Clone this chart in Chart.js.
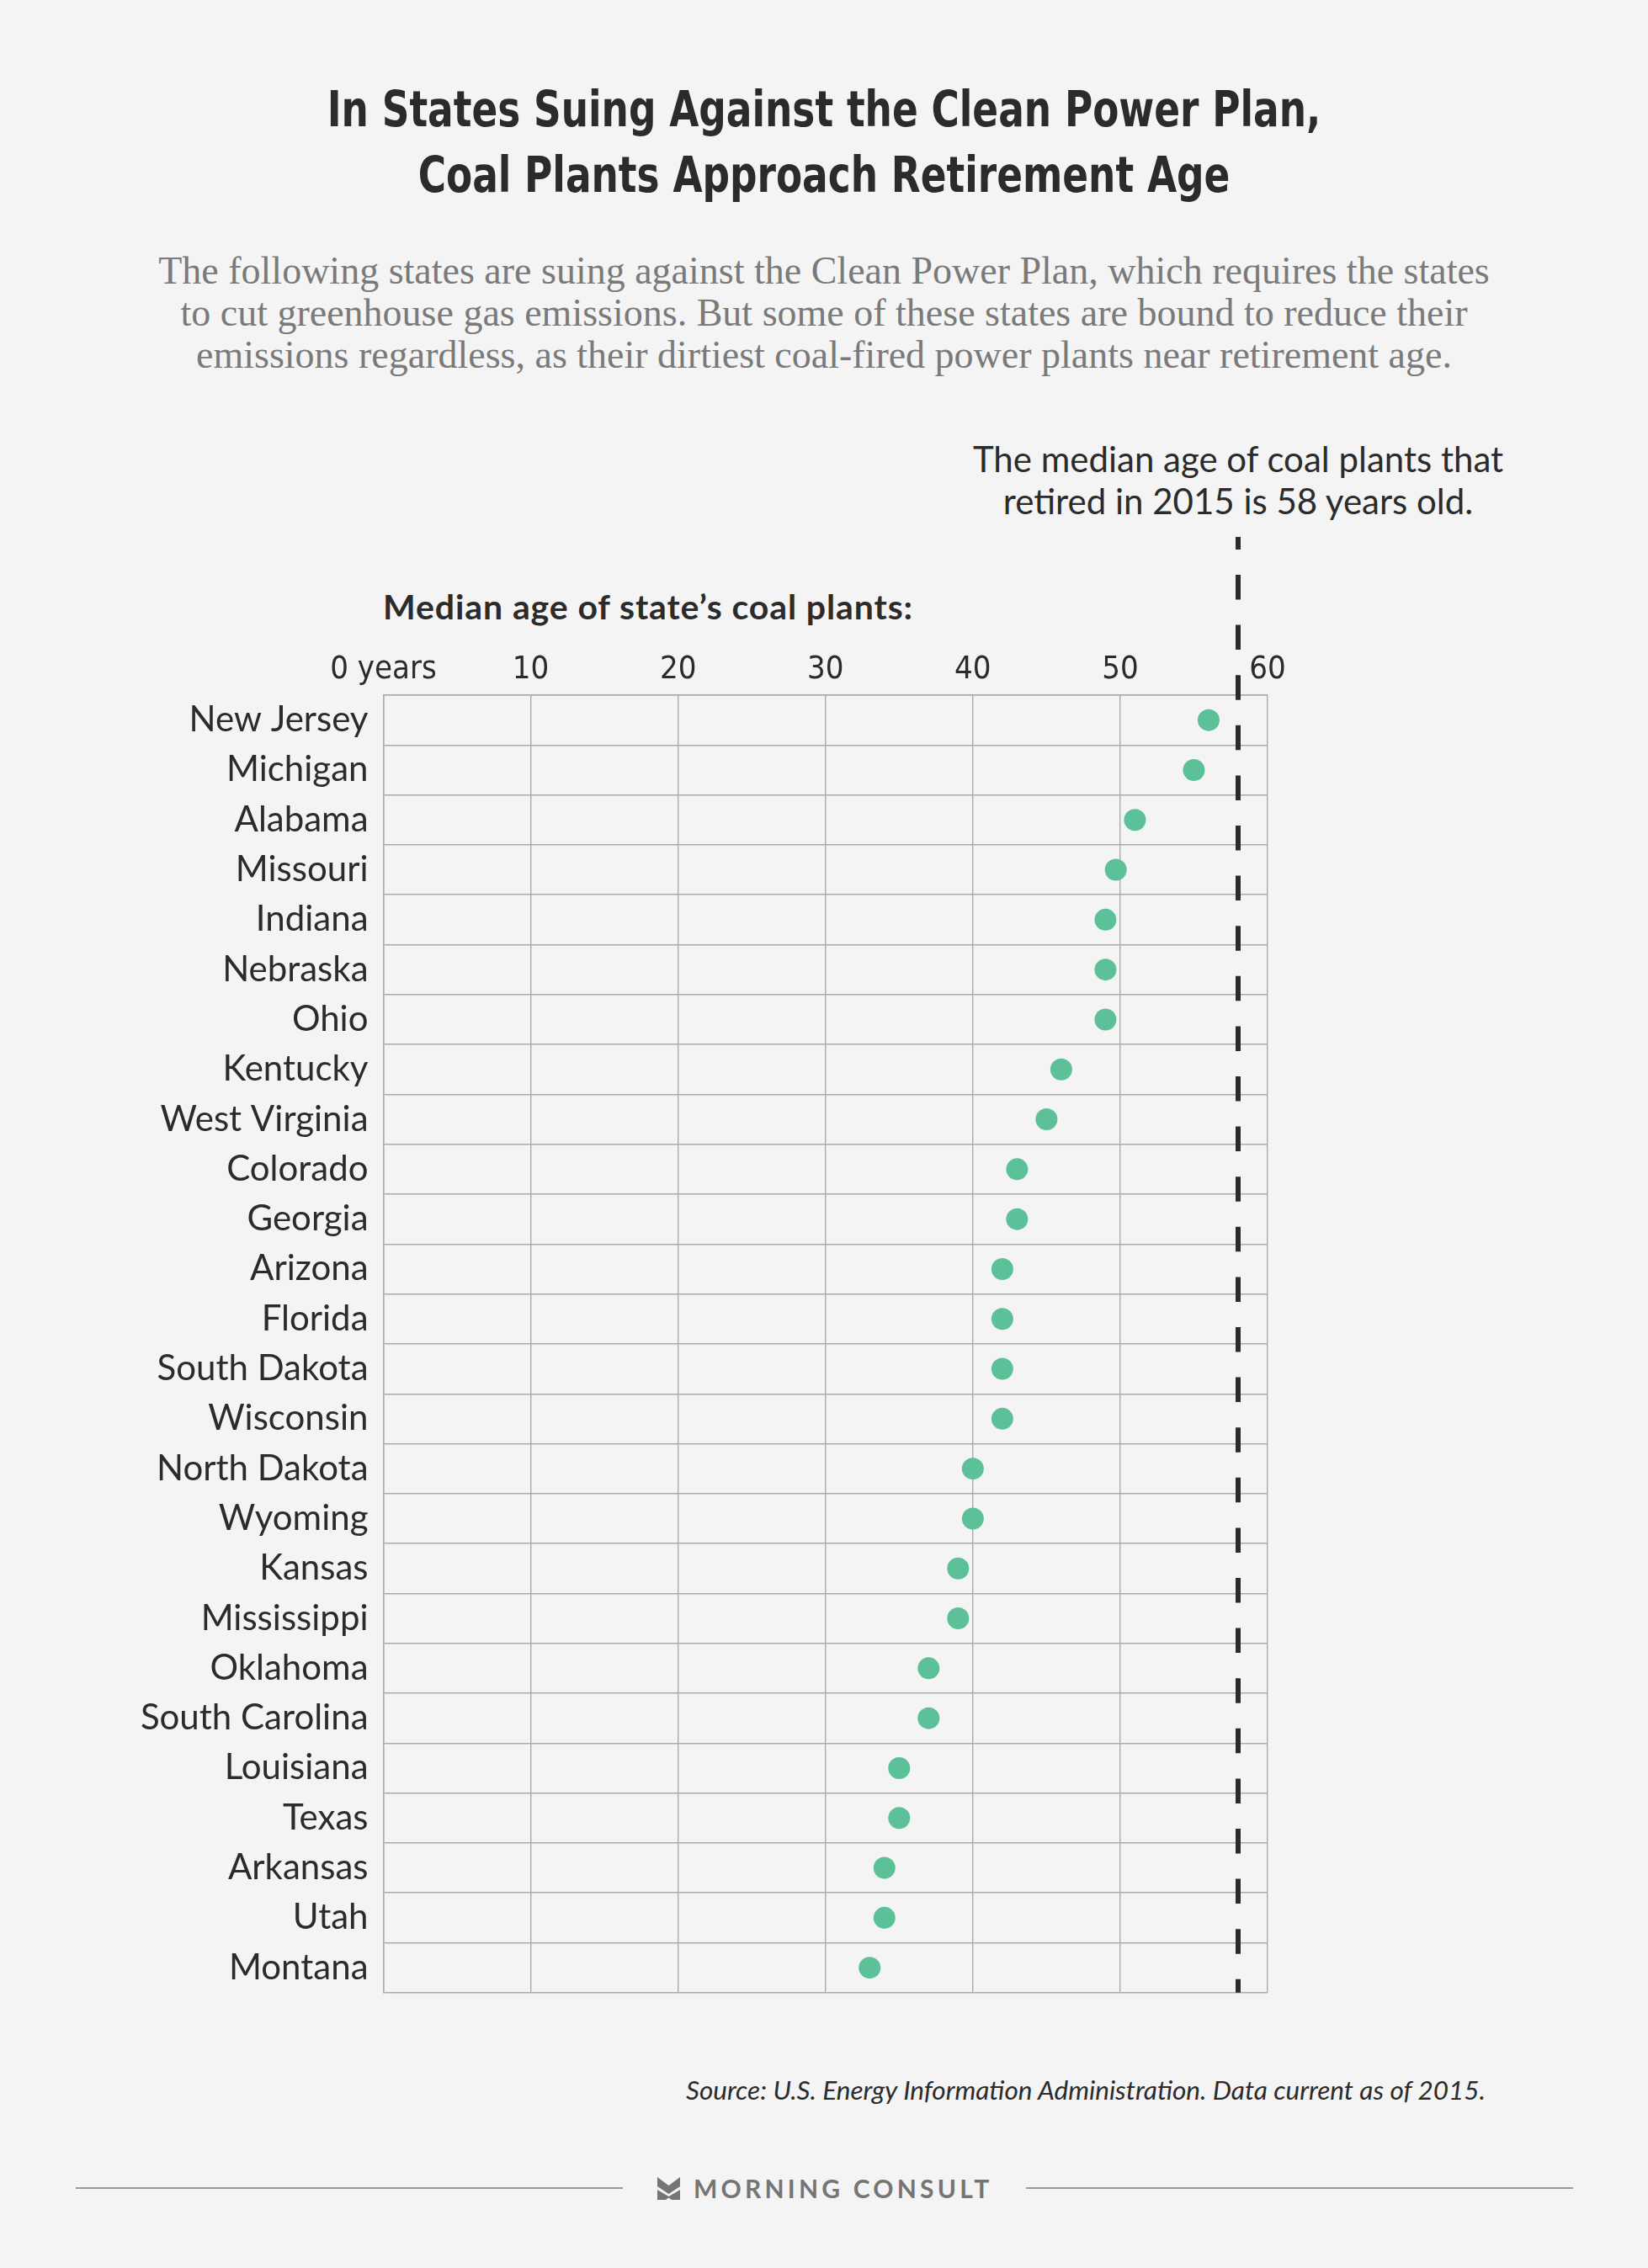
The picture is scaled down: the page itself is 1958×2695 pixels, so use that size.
<!DOCTYPE html>
<html>
<head>
<meta charset="utf-8">
<script src="https://cdn.jsdelivr.net/npm/chart.js@4.4.1/dist/chart.umd.min.js"></script>
<style>
  body { margin: 0; background: #f4f4f4; }
  #page { position: relative; width: 1958px; height: 2695px; overflow: hidden; background: #f4f4f4; color: #2b2b2b; }
  .abs { position: absolute; }
  #title { left: 0; width: 1958px; top: 91px; text-align: center; transform: scaleX(0.87); transform-origin: 979px 0; font-family: "Liberation Sans Narrow", "DejaVu Sans Condensed", Roboto, sans-serif; font-weight: bold; font-size: 58px; line-height: 78px; color: #2b2b2b; }
  #subtitle { left: 0; width: 1958px; top: 297px; text-align: center; font-family: "Liberation Serif", "DejaVu Serif", serif; font-size: 46px; line-height: 50px; color: #7a7a7a; }
  #note { top: 520px; transform: translateX(-50%); white-space: nowrap; text-align: center; font-family: Lato, "Open Sans", sans-serif; font-size: 42px; line-height: 50px; color: #2b2b2b; }
  #axisTitle { left: 455px; top: 698px; font-family: Lato, "Open Sans", sans-serif; font-weight: bold; font-size: 41px; letter-spacing: 0.9px; line-height: 46px; color: #2b2b2b; }
  #source { right: 193px; top: 2465px; font-family: Lato, "Open Sans", sans-serif; font-style: italic; font-size: 31.5px; line-height: 36px; color: #2b2b2b; }
  .rule { top: 2599px; height: 2px; background: #9a9a9a; }
  #logo { left: 781px; top: 2583px; height: 34px; display: flex; align-items: center; }
  #logo span { margin-left: 16px; font-family: Lato, "Open Sans", sans-serif; font-weight: bold; font-size: 30px; letter-spacing: 4.2px; color: #757575; }
  #chartBox { left: 0; top: 620px; width: 1958px; height: 1791px; }
</style>
</head>
<body>
<div id="page">
  <div id="title" class="abs">In States Suing Against the Clean Power Plan,<br>Coal Plants Approach Retirement Age</div>
  <div id="subtitle" class="abs">The following states are suing against the Clean Power Plan, which requires the states<br>to cut greenhouse gas emissions. But some of these states are bound to reduce their<br>emissions regardless, as their dirtiest coal-fired power plants near retirement age.</div>
  <div id="note" class="abs">The median age of coal plants that<br>retired in 2015 is 58 years old.</div>
  <div id="axisTitle" class="abs">Median age of state’s coal plants:</div>
  <div id="chartBox" class="abs"><canvas id="chart" width="1958" height="1791"></canvas></div>
  <div id="source" class="abs">Source: U.S. Energy Information Administration. Data current as of 2015.</div>
  <div class="abs rule" style="left:90px;width:650px"></div>
  <div class="abs rule" style="left:1219px;width:650px"></div>
  <div id="logo" class="abs">
    <svg width="27" height="27" viewBox="0 0 27 27">
      <polygon points="0,0 13.5,10 27,0 27,11 13.5,20 0,11" fill="#757575"/>
      <polygon points="0,15 13.5,23 27,15 27,27 17,27 13.5,24.5 10,27 0,27" fill="#757575"/>
    </svg>
    <span>MORNING CONSULT</span>
  </div>
</div>

<script>
const states = [
  "New Jersey", "Michigan", "Alabama", "Missouri", "Indiana", "Nebraska", "Ohio",
  "Kentucky", "West Virginia", "Colorado", "Georgia", "Arizona", "Florida",
  "South Dakota", "Wisconsin", "North Dakota", "Wyoming", "Kansas", "Mississippi",
  "Oklahoma", "South Carolina", "Louisiana", "Texas", "Arkansas", "Utah", "Montana"
];
const medianAge = [
  56, 55, 51, 49.7, 49, 49, 49,
  46, 45, 43, 43, 42, 42,
  42, 42, 40, 40, 39, 39,
  37, 37, 35, 35, 34, 34, 33
];
const xMin = 0;
const xMax = 60;
const xStep = 10;
const retiredMedian = 58;

const gridColor = "#ababab";
const textColor = "#2b2b2b";

// dashed line for the 2015 retirement median
const medianLine = {
  id: "medianLine",
  afterDatasetsDraw(chart) {
    const { ctx, chartArea, scales } = chart;
    const x = scales.x.getPixelForValue(retiredMedian);
    ctx.save();
    ctx.strokeStyle = "#2b2b2b";
    ctx.lineWidth = 6;
    ctx.setLineDash([29.5, 30.1]);
    ctx.lineDashOffset = 14.6;
    ctx.beginPath();
    ctx.moveTo(x, 18);
    ctx.lineTo(x, chartArea.bottom);
    ctx.stroke();
    ctx.restore();
  }
};

const chart = new Chart(document.getElementById("chart"), {
  type: "line",
  data: {
    labels: states,
    datasets: [{
      data: medianAge,
      showLine: false,
      pointRadius: 13,
      pointHoverRadius: 13,
      pointBackgroundColor: "#5cc198",
      pointBorderWidth: 0,
      borderColor: "#5cc198"
    }]
  },
  options: {
    indexAxis: "y",
    responsive: false,
    animation: false,
    layout: { padding: { left: 0, right: 452, top: 0, bottom: 25 } },
    plugins: {
      legend: { display: false },
      tooltip: { enabled: false }
    },
    scales: {
      x: {
        type: "linear",
        position: "top",
        min: xMin,
        max: xMax,
        afterFit: s => { s.height = 206; },
        ticks: {
          stepSize: xStep,
          autoSkip: false,
          maxRotation: 0,
          padding: 7,
          color: textColor,
          font: { family: "'Liberation Sans Narrow', 'DejaVu Sans Condensed', Roboto, sans-serif", size: 38 },
          callback: v => (v === 0 ? "0 years" : v)
        },
        grid: { color: gridColor, lineWidth: 1.4, drawTicks: false },
        border: { display: true, color: gridColor, width: 1.4 }
      },
      y: {
        type: "category",
        offset: true,
        afterFit: s => { s.width = 455.5; },
        ticks: {
          autoSkip: false,
          padding: 18,
          color: textColor,
          font: { family: "Lato, 'Open Sans', sans-serif", size: 42 }
        },
        grid: { offset: true, color: gridColor, lineWidth: 1.4, drawTicks: false },
        border: { display: true, color: gridColor, width: 1.4 }
      }
    }
  },
  plugins: [medianLine]
});

// centre the annotation over the dashed line
document.getElementById("note").style.left = chart.scales.x.getPixelForValue(retiredMedian) + "px";
</script>
</body>
</html>
